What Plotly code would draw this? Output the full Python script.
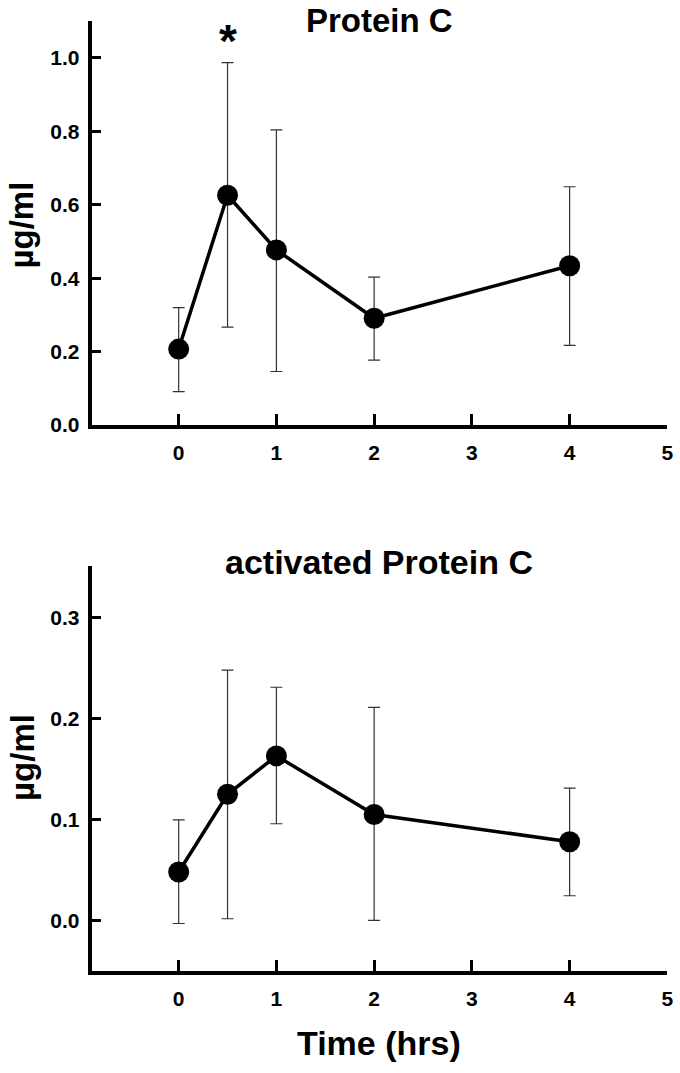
import plotly.graph_objects as go

# Data
time_hrs = [0, 0.5, 1, 2, 4]

pc_mean = [0.207, 0.626, 0.477, 0.291, 0.434]
pc_upper = [0.320, 0.987, 0.804, 0.403, 0.649]
pc_lower = [0.091, 0.267, 0.146, 0.177, 0.217]

apc_mean = [0.048, 0.125, 0.163, 0.105, 0.078]
apc_upper = [0.0997, 0.248, 0.231, 0.211, 0.131]
apc_lower = [-0.003, 0.0017, 0.0958, 0.000, 0.0245]

x_ticks = [0, 1, 2, 3, 4, 5]
pc_yticks = [0.0, 0.2, 0.4, 0.6, 0.8, 1.0]
apc_yticks = [0.0, 0.1, 0.2, 0.3]

FONT = "Liberation Sans, Arial, sans-serif"

fig = go.Figure()

def add_series(mean, upper, lower, xa, ya):
    fig.add_trace(go.Scatter(
        x=time_hrs, y=mean, mode="lines+markers",
        line=dict(color="black", width=3.5),
        marker=dict(color="black", size=21),
        error_y=dict(type="data", symmetric=False,
                     array=[u - m for u, m in zip(upper, mean)],
                     arrayminus=[m - l for m, l in zip(mean, lower)],
                     color="#333333", thickness=1.2, width=6),
        xaxis=xa, yaxis=ya, showlegend=False,
    ))

add_series(pc_mean, pc_upper, pc_lower, "x", "y")
add_series(apc_mean, apc_upper, apc_lower, "x2", "y2")

xdom = [92.5 / 680, 673.3 / 680]
top_dom = [1 - 429.5 / 1073, 1 - 21 / 1073]
bot_dom = [1 - 981 / 1073, 1 - 572.3 / 1073]

axis_common = dict(showline=True, linecolor="black", linewidth=4,
                   ticks="inside", tickcolor="black", tickwidth=3,
                   showgrid=False, zeroline=False,
                   tickfont=dict(family=FONT, size=21, color="black", weight="bold"))

fig.update_layout(
    width=680, height=1073,
    margin=dict(l=0, r=0, t=0, b=0),
    paper_bgcolor="white", plot_bgcolor="white",
    xaxis=dict(domain=xdom, range=[-0.89, 5.0], tickvals=x_ticks, ticklen=11,
               anchor="y", ticklabelstandoff=6, **axis_common),
    yaxis=dict(domain=top_dom, range=[0, 1.101], tickvals=pc_yticks, tickformat=".1f",
               ticklen=9, anchor="x", ticklabelstandoff=4, **axis_common),
    xaxis2=dict(domain=xdom, range=[-0.89, 5.0], tickvals=x_ticks, ticklen=11,
                anchor="y2", ticklabelstandoff=6, **axis_common),
    yaxis2=dict(domain=bot_dom, range=[-0.05, 0.3507], tickvals=apc_yticks, tickformat=".1f",
                ticklen=9, anchor="x2", ticklabelstandoff=4, **axis_common),
)

def txt(text, x, y, size, angle=0, xref="paper", yref="paper", yanchor="middle"):
    fig.add_annotation(text=text, x=x, y=y, xref=xref, yref=yref,
                       showarrow=False, textangle=angle,
                       font=dict(family=FONT, size=size, color="black", weight="bold"),
                       xanchor="center", yanchor=yanchor)

txt("Protein C", 383 / 680, 1.0, 33, yanchor="top")
txt("activated Protein C", 382 / 680, 1 - 568 / 1073, 34)
txt("µg/ml", 22 / 680, 1 - 227 / 1073, 33, angle=-90)
txt("µg/ml", 22 / 680, 1 - 765 / 1073, 33, angle=-90)
txt("Time (hrs)", 382 / 680, 1 - 1054 / 1073, 34)
txt("*", 0.5, 1.045, 46, xref="x", yref="y")

fig.write_html(
    "out.html",
    config={"displayModeBar": False},
    post_script="document.body.style.margin='0';document.body.style.padding='0';"
                "document.documentElement.style.overflow='hidden';",
)
